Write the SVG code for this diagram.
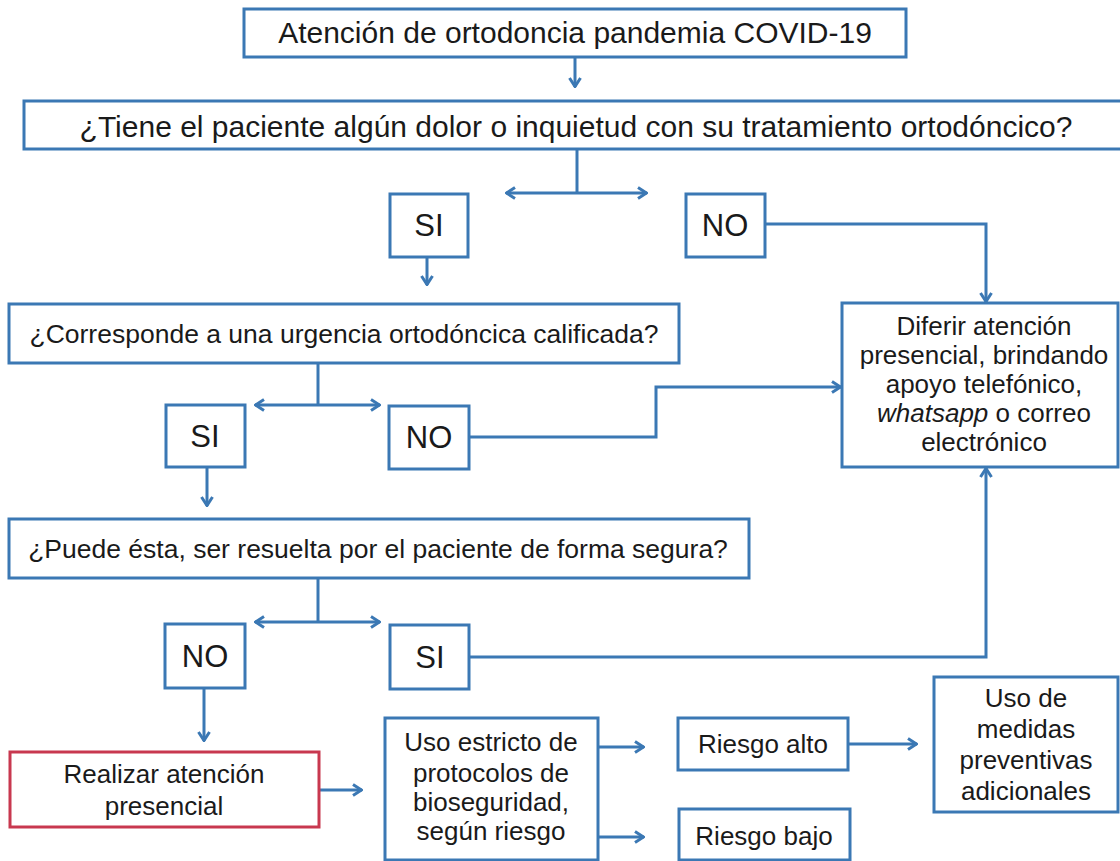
<svg xmlns="http://www.w3.org/2000/svg" width="1120" height="861" viewBox="0 0 1120 861">
<style>
.box{fill:#fff;stroke:#3b78b4;stroke-width:3}
.red{fill:#fff;stroke:#c8384f;stroke-width:3}
.t{font-family:"Liberation Sans",Arial,sans-serif;fill:#1a1a1a;text-anchor:middle}
.big{font-size:30px}
.yn{font-size:31px}
.md{font-size:26.5px}
.sm{font-size:26px}
.e{fill:none;stroke:#3b78b4;stroke-width:3}
.ea{marker-end:url(#arr)}
.eb{marker-start:url(#arr);marker-end:url(#arr)}
</style>
<defs>
<marker id="arr" viewBox="0 0 12 14" refX="11" refY="7" markerWidth="12" markerHeight="14" markerUnits="userSpaceOnUse" orient="auto-start-reverse">
<path d="M2,1.5 L10.5,7 L2,12.5" fill="none" stroke="#3b78b4" stroke-width="3"/>
</marker>
</defs>
<rect width="1120" height="861" fill="#fff"/>
<g id="connectors">
<path class="e ea" d="M575,57 V87"/>
<path class="e" d="M577,149 V193"/>
<path class="e eb" d="M506,193 H647"/>
<path class="e ea" d="M427,257 V285"/>
<path class="e ea" d="M765,224 H986 V302"/>
<path class="e" d="M318,363 V405"/>
<path class="e eb" d="M255,405 H380"/>
<path class="e ea" d="M469,437 H656 V387 H841"/>
<path class="e ea" d="M207,467 V506"/>
<path class="e" d="M318,578 V622"/>
<path class="e eb" d="M255,622 H380"/>
<path class="e ea" d="M469,657 H986 V468"/>
<path class="e ea" d="M204,688 V741"/>
<path class="e ea" d="M319,790 H362"/>
<path class="e ea" d="M598,747 H644"/>
<path class="e ea" d="M598,837 H644"/>
<path class="e ea" d="M848,744 H917"/>
</g>
<g id="n-title"><rect class="box" x="244" y="9" width="662" height="48"/><text class="t big" x="575" y="43">Atención de ortodoncia pandemia COVID-19</text></g>
<g id="n-q1"><rect class="box" x="24" y="101" width="1104" height="48"/><text class="t big" x="576" y="137">¿Tiene el paciente algún dolor o inquietud con su tratamiento ortodóncico?</text></g>
<g id="n-si1"><rect class="box" x="390" y="194" width="78" height="63"/><text class="t yn" x="429" y="236">SI</text></g>
<g id="n-no1"><rect class="box" x="686" y="194" width="79" height="63"/><text class="t yn" x="725" y="236">NO</text></g>
<g id="n-q2"><rect class="box" x="9" y="304" width="670" height="59"/><text class="t md" x="344" y="343">¿Corresponde a una urgencia ortodóncica calificada?</text></g>
<g id="n-diferir"><rect class="box" x="842" y="303" width="276" height="164"/>
<text class="t sm" x="984" y="335">Diferir atención</text>
<text class="t sm" x="984" y="364">presencial, brindando</text>
<text class="t sm" x="984" y="393">apoyo telefónico,</text>
<text class="t sm" x="984" y="422"><tspan font-style="italic">whatsapp</tspan> o correo</text>
<text class="t sm" x="984" y="451">electrónico</text></g>
<g id="n-si2"><rect class="box" x="166" y="405" width="79" height="62"/><text class="t yn" x="205" y="447">SI</text></g>
<g id="n-no2"><rect class="box" x="389" y="406" width="80" height="63"/><text class="t yn" x="429" y="448">NO</text></g>
<g id="n-q3"><rect class="box" x="9" y="519" width="740" height="59"/><text class="t md" x="378" y="558">¿Puede ésta, ser resuelta por el paciente de forma segura?</text></g>
<g id="n-no3"><rect class="box" x="165" y="624" width="80" height="64"/><text class="t yn" x="205" y="667">NO</text></g>
<g id="n-si3"><rect class="box" x="390" y="625" width="79" height="64"/><text class="t yn" x="430" y="668">SI</text></g>
<g id="n-realizar"><rect class="red" x="10" y="752" width="309" height="75"/>
<text class="t sm" x="164" y="783">Realizar atención</text>
<text class="t sm" x="164" y="815">presencial</text></g>
<g id="n-uso"><rect class="box" x="385" y="718" width="213" height="142"/>
<text class="t sm" x="491" y="751">Uso estricto de</text>
<text class="t sm" x="491" y="782">protocolos de</text>
<text class="t sm" x="491" y="811">bioseguridad,</text>
<text class="t sm" x="491" y="840">según riesgo</text></g>
<g id="n-alto"><rect class="box" x="678" y="718" width="170" height="52"/><text class="t sm" x="763" y="753">Riesgo alto</text></g>
<g id="n-bajo"><rect class="box" x="679" y="809" width="171" height="51"/><text class="t sm" x="764" y="845">Riesgo bajo</text></g>
<g id="n-medidas"><rect class="box" x="934" y="677" width="184" height="135"/>
<text class="t sm" x="1026" y="707">Uso de</text>
<text class="t sm" x="1026" y="738">medidas</text>
<text class="t sm" x="1026" y="769">preventivas</text>
<text class="t sm" x="1026" y="800">adicionales</text></g>
</svg>
